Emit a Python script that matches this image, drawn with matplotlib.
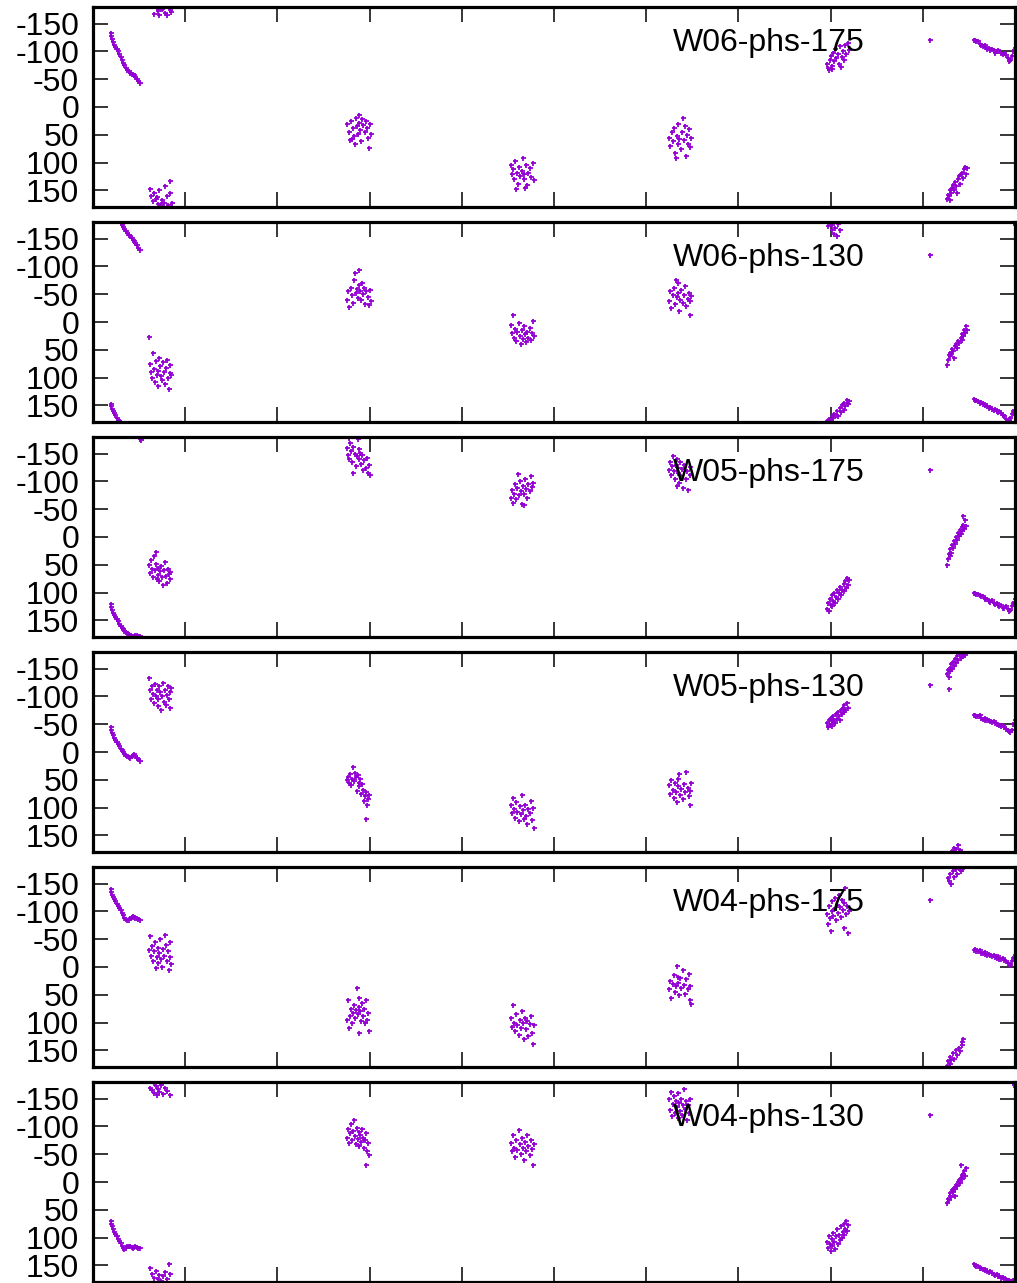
import numpy as np
import matplotlib.pyplot as plt

plt.rcParams['font.family'] = ['Liberation Sans', 'DejaVu Sans']
plt.rcParams['axes.unicode_minus'] = False

names = ["W06-phs-175", "W06-phs-130", "W05-phs-175",
         "W05-phs-130", "W04-phs-175", "W04-phs-130"]

# sample times of the two continuous tracks (start and end of the run)
start_x = [0.19, 0.20, 0.21, 0.22, 0.23, 0.24, 0.26, 0.27, 0.28, 0.30, 0.31, 0.33,
           0.34, 0.36, 0.37, 0.39, 0.40, 0.42, 0.43, 0.45, 0.46, 0.48, 0.49, 0.51]
end_x = [9.55, 9.57, 9.58, 9.60, 9.62, 9.63, 9.65, 9.67, 9.68, 9.70, 9.72, 9.73, 9.75, 9.77,
         9.78, 9.80, 9.82, 9.83, 9.85, 9.87, 9.88, 9.90, 9.92, 9.93, 9.95, 9.97, 9.98, 10.0]

# phase of the start track, one list per panel
w06_175_start = [-134, -128, -122, -117, -112, -108, -104, -100, -95, -90, -85, -80,
                 -75, -70, -66, -64, -62, -60, -59, -57, -54, -51, -47, -43]
w06_130_start = [148, 152, 156, 160, 164, 168, 172, 176, 179, -178, -175, -171,
                 -167, -163, -160, -157, -154, -151, -148, -145, -142, -138, -134, -129]
w05_175_start = [121, 126, 131, 136, 140, 144, 148, 152, 156, 160, 163, 166,
                 169, 171, 173, 175, 177, 178, 179, 178, 177, 176, 178, 179]
w05_130_start = [-45, -40, -35, -30, -26, -22, -18, -14, -10, -6, -3, 0,
                 3, 5, 7, 9, 10, 8, 5, 4, 7, 10, 13, 16]
w04_175_start = [-140, -135, -130, -126, -122, -118, -114, -110, -106, -102, -97, -93,
                 -89, -86, -84, -85, -88, -90, -91, -90, -89, -88, -86, -85]
w04_130_start = [70, 75, 80, 85, 90, 94, 98, 102, 106, 110, 115, 119,
                 121, 118, 116, 115, 116, 117, 118, 117, 116, 117, 118, 119]

# phase of the end track
w06_175_end = [-120, -121, -118, -119, -114, -112, -110, -112, -108, -104, -106, -103, -104, -102,
               -98, -100, -103, -101, -98, -96, -98, -94, -88, -82, -85, -92, -100, -106]
w06_130_end = [139, 141, 140, 143, 145, 144, 147, 149, 148, 152, 154, 153, 156, 158,
               157, 160, 162, 161, 164, 167, 170, 174, 178, 176, 172, 165, 160, 168]
w05_175_end = [100, 101, 103, 102, 105, 107, 106, 110, 112, 111, 115, 117, 114, 118,
               120, 119, 122, 124, 123, 127, 128, 125, 130, 134, 131, 124, 118, 112]
w05_130_end = [-66, -67, -65, -64, -66, -62, -60, -61, -58, -57, -58, -55, -54, -55,
               -52, -50, -51, -48, -47, -48, -45, -42, -40, -38, -36, -40, -50, -57]
w04_175_end = [-30, -32, -29, -28, -30, -26, -25, -27, -23, -22, -24, -21, -20, -22,
               -18, -17, -19, -15, -14, -16, -12, -10, -8, -6, -4, -10, -16, -21]
w04_130_end = [148, 150, 152, 151, 154, 155, 157, 156, 159, 160, 162, 161, 164, 165,
               167, 166, 169, 170, 172, 171, 174, 175, 177, 176, 178, 179, 177, 178]

# scattered scans (time, phase)
w06_175_pts = [
    (0.66, -168), (0.70, -172), (0.72, -165), (0.75, -176), (0.78, -170), (0.80, -166),
    (0.83, -174), (0.76, -178), (0.70, -177), (0.85, -171),
    (0.62, 148), (0.63, 160), (0.65, 170), (0.66, 155), (0.68, 165), (0.70, 175), (0.72, 150),
    (0.73, 178), (0.75, 168), (0.77, 172), (0.78, 143), (0.80, 160), (0.81, 176), (0.83, 133),
    (0.84, 155), (0.86, 172), (0.69, 162), (0.74, 174),
    (2.76, 30), (2.78, 45), (2.79, 60), (2.80, 25), (2.82, 38), (2.83, 52), (2.85, 20), (2.86, 35),
    (2.87, 48), (2.88, 15), (2.89, 28), (2.90, 42), (2.91, 62), (2.92, 22), (2.93, 33), (2.95, 45),
    (2.96, 26), (2.97, 38), (2.98, 55), (3.00, 30), (3.01, 48), (2.84, 66), (2.99, 73), (2.81, 58),
    (4.53, 105), (4.54, 120), (4.56, 112), (4.57, 130), (4.58, 98), (4.60, 118), (4.61, 138),
    (4.62, 108), (4.63, 125), (4.65, 115), (4.66, 92), (4.67, 130), (4.68, 120), (4.70, 105),
    (4.71, 140), (4.72, 118), (4.74, 110), (4.75, 126), (4.77, 100), (4.78, 132), (4.59, 148), (4.69, 145),
    (6.25, 55), (6.26, 70), (6.28, 45), (6.29, 62), (6.30, 38), (6.31, 82), (6.33, 52), (6.34, 67),
    (6.35, 30), (6.36, 58), (6.38, 75), (6.39, 45), (6.40, 20), (6.41, 60), (6.43, 88), (6.44, 50),
    (6.45, 66), (6.46, 40), (6.48, 72), (6.49, 56), (6.32, 91), (6.42, 35),
    (7.96, -78), (7.97, -70), (7.99, -85), (8.00, -92), (8.01, -74), (8.03, -98), (8.04, -82),
    (8.05, -105), (8.06, -88), (8.08, -95), (8.09, -78), (8.10, -110), (8.12, -90), (8.13, -100),
    (8.14, -84), (8.16, -112), (8.17, -95), (8.19, -116), (8.20, -102), (7.98, -66), (8.02, -68), (8.11, -72),
    (9.26, 165), (9.27, 158), (9.28, 160), (9.30, 150), (9.31, 155), (9.32, 145), (9.33, 140),
    (9.34, 150), (9.35, 135), (9.36, 142), (9.38, 130), (9.39, 125), (9.40, 138), (9.41, 120),
    (9.43, 118), (9.44, 128), (9.45, 112), (9.46, 108), (9.47, 120), (9.48, 110), (9.29, 168), (9.37, 155),
]
w06_130_pts = [
    (0.61, 27), (0.62, 75), (0.63, 90), (0.64, 100), (0.65, 55), (0.66, 85), (0.67, 108), (0.68, 70),
    (0.69, 95), (0.70, 88), (0.71, 115), (0.72, 65), (0.73, 80), (0.74, 98), (0.75, 105), (0.76, 72),
    (0.77, 90), (0.78, 112), (0.79, 82), (0.80, 68), (0.81, 100), (0.82, 121), (0.83, 92), (0.84, 78), (0.85, 96),
    (2.76, -40), (2.77, -55), (2.78, -27), (2.80, -62), (2.81, -48), (2.82, -35), (2.83, -75), (2.85, -52),
    (2.86, -60), (2.87, -44), (2.88, -93), (2.89, -66), (2.90, -56), (2.91, -40), (2.92, -70), (2.93, -50),
    (2.94, -62), (2.95, -33), (2.96, -55), (2.98, -45), (2.99, -30), (3.00, -58), (3.01, -38), (2.84, -88),
    (4.53, 5), (4.54, 20), (4.55, -13), (4.57, 28), (4.58, 12), (4.59, 35), (4.60, 18), (4.62, 2),
    (4.63, 25), (4.64, 40), (4.65, 15), (4.66, 30), (4.68, 8), (4.69, 22), (4.70, 36), (4.71, 18),
    (4.72, 28), (4.74, 10), (4.75, 32), (4.76, 20), (4.77, -2), (4.78, 26),
    (6.25, -38), (6.26, -55), (6.27, -25), (6.29, -48), (6.30, -62), (6.31, -33), (6.32, -75), (6.33, -45),
    (6.35, -52), (6.36, -20), (6.37, -40), (6.38, -58), (6.40, -35), (6.41, -48), (6.42, -65), (6.43, -28),
    (6.45, -42), (6.46, -53), (6.47, -13), (6.48, -38), (6.49, -47), (6.34, -70),
    (7.97, -172), (7.99, -178), (8.01, -165), (8.02, -175), (8.04, -158), (8.05, -170), (8.07, -155),
    (8.08, -176), (8.10, -166),
    (7.96, 178), (7.98, 175), (8.00, 176), (8.01, 170), (8.03, 172), (8.04, 165), (8.06, 168), (8.07, 160),
    (8.08, 170), (8.10, 155), (8.11, 162), (8.12, 150), (8.14, 158), (8.15, 145), (8.16, 152), (8.18, 140),
    (8.19, 148), (8.20, 143),
    (9.26, 77), (9.27, 68), (9.28, 60), (9.29, 62), (9.30, 55), (9.31, 58), (9.32, 48), (9.33, 52),
    (9.35, 44), (9.36, 40), (9.37, 46), (9.38, 35), (9.39, 38), (9.41, 28), (9.42, 32), (9.43, 22),
    (9.44, 26), (9.45, 15), (9.46, 20), (9.47, 8), (9.48, 14), (9.34, 65),
    (9.99, -178), (10.0, -175),
]
w05_175_pts = [
    (0.51, -177), (0.52, -174),
    (0.61, 50), (0.62, 65), (0.63, 42), (0.64, 58), (0.65, 72), (0.66, 35), (0.67, 60), (0.68, 48),
    (0.69, 75), (0.70, 55), (0.71, 68), (0.72, 80), (0.73, 62), (0.74, 52), (0.75, 72), (0.76, 86),
    (0.77, 60), (0.78, 45), (0.79, 70), (0.80, 82), (0.81, 58), (0.82, 66), (0.83, 76), (0.84, 63), (0.68, 27),
    (2.76, -160), (2.77, -148), (2.78, -140), (2.79, -170), (2.80, -155), (2.81, -135), (2.82, -162),
    (2.84, -150), (2.85, -128), (2.86, -145), (2.87, -177), (2.88, -158), (2.89, -140), (2.90, -152),
    (2.91, -132), (2.92, -148), (2.93, -120), (2.94, -138), (2.96, -125), (2.97, -142), (2.98, -115),
    (2.99, -130), (3.00, -111), (2.82, -115), (2.78, -178),
    (4.53, -70), (4.54, -85), (4.55, -62), (4.57, -78), (4.58, -95), (4.59, -68), (4.60, -88), (4.62, -75),
    (4.63, -100), (4.64, -82), (4.65, -60), (4.66, -92), (4.68, -78), (4.69, -105), (4.70, -86),
    (4.71, -70), (4.72, -95), (4.74, -82), (4.75, -110), (4.76, -90), (4.77, -98), (4.61, -114), (4.67, -57),
    (6.25, -120), (6.26, -135), (6.27, -112), (6.28, -128), (6.29, -145), (6.30, -118), (6.31, -105),
    (6.32, -130), (6.33, -140), (6.34, -115), (6.35, -125), (6.36, -98), (6.37, -135), (6.38, -110),
    (6.39, -122), (6.40, -88), (6.41, -130), (6.43, -105), (6.44, -118), (6.45, -84), (6.47, -112),
    (6.48, -126), (6.33, -92),
    (7.96, 130), (7.97, 118), (7.98, 134), (7.99, 112), (8.00, 122), (8.01, 105), (8.02, 125), (8.03, 115),
    (8.04, 100), (8.05, 118), (8.06, 108), (8.07, 95), (8.08, 112), (8.09, 100), (8.10, 90), (8.11, 104),
    (8.12, 96), (8.14, 85), (8.15, 98), (8.16, 80), (8.17, 92), (8.18, 73), (8.19, 86), (8.20, 78),
    (9.26, 50), (9.27, 40), (9.28, 30), (9.29, 35), (9.30, 22), (9.31, 28), (9.32, 15), (9.33, 20),
    (9.34, 8), (9.35, 12), (9.36, 0), (9.37, 5), (9.38, -8), (9.39, -2), (9.40, -12), (9.41, -5),
    (9.42, -18), (9.43, -10), (9.44, -22), (9.45, -15), (9.46, -30), (9.47, -20), (9.44, -38),
]
w05_130_pts = [
    (0.61, -134), (0.62, -112), (0.63, -95), (0.64, -118), (0.65, -105), (0.66, -88), (0.67, -122),
    (0.68, -100), (0.69, -112), (0.70, -82), (0.71, -95), (0.72, -118), (0.73, -108), (0.74, -75),
    (0.75, -100), (0.76, -125), (0.77, -90), (0.78, -112), (0.79, -85), (0.80, -102), (0.81, -118),
    (0.82, -95), (0.83, -80), (0.84, -108), (0.85, -115),
    (2.76, 50), (2.77, 45), (2.78, 55), (2.79, 40), (2.80, 60), (2.81, 48), (2.82, 27), (2.83, 52),
    (2.84, 38), (2.85, 45), (2.86, 70), (2.87, 42), (2.88, 55), (2.89, 62), (2.90, 48), (2.91, 75),
    (2.92, 58), (2.93, 68), (2.94, 88), (2.95, 80), (2.96, 72), (2.97, 95), (2.98, 85), (2.99, 78), (2.96, 121),
    (4.53, 95), (4.54, 110), (4.55, 82), (4.57, 102), (4.58, 118), (4.59, 90), (4.60, 108), (4.62, 125),
    (4.63, 98), (4.64, 112), (4.65, 77), (4.66, 105), (4.68, 120), (4.69, 95), (4.70, 115), (4.71, 130),
    (4.72, 102), (4.74, 110), (4.75, 88), (4.76, 122), (4.77, 100), (4.78, 136),
    (6.25, 60), (6.26, 75), (6.27, 50), (6.29, 68), (6.30, 82), (6.31, 55), (6.32, 72), (6.33, 90),
    (6.35, 62), (6.36, 40), (6.37, 78), (6.38, 66), (6.40, 85), (6.41, 58), (6.42, 72), (6.43, 36),
    (6.45, 65), (6.46, 80), (6.47, 96), (6.48, 70), (6.49, 55), (6.34, 48),
    (7.96, -52), (7.97, -45), (7.98, -58), (7.99, -48), (8.00, -62), (8.01, -55), (8.02, -50), (8.03, -65),
    (8.04, -58), (8.05, -52), (8.06, -68), (8.07, -60), (8.08, -72), (8.09, -64), (8.10, -58), (8.11, -75),
    (8.12, -68), (8.13, -80), (8.14, -72), (8.15, -84), (8.16, -76), (8.18, -88), (8.19, -80), (8.01, -47),
    (9.26, -140), (9.27, -148), (9.28, -135), (9.29, -152), (9.30, -145), (9.31, -158), (9.32, -150),
    (9.33, -162), (9.34, -155), (9.35, -168), (9.36, -160), (9.37, -172), (9.38, -165), (9.40, -176),
    (9.41, -170), (9.43, -178), (9.44, -172), (9.46, -175), (9.28, -114),
    (9.32, 178), (9.34, 172), (9.36, 175), (9.38, 168), (9.40, 176),
]
w04_175_pts = [
    (0.61, -30), (0.62, -55), (0.63, -20), (0.64, -38), (0.65, -10), (0.66, -28), (0.67, -45), (0.68, 2),
    (0.69, -18), (0.70, -35), (0.71, -8), (0.72, -25), (0.73, -50), (0.74, -15), (0.75, 0), (0.76, -32),
    (0.77, -20), (0.78, -57), (0.79, -40), (0.80, -10), (0.81, -28), (0.82, 5), (0.83, -45), (0.84, -18), (0.85, -5),
    (2.76, 95), (2.77, 60), (2.78, 110), (2.79, 88), (2.80, 75), (2.81, 100), (2.82, 82), (2.83, 68),
    (2.84, 92), (2.85, 78), (2.86, 37), (2.87, 85), (2.88, 72), (2.89, 55), (2.90, 80), (2.91, 98),
    (2.92, 65), (2.93, 88), (2.94, 75), (2.96, 60), (2.97, 95), (2.98, 82), (2.99, 116), (2.89, 118), (2.95, 100),
    (4.53, 92), (4.54, 108), (4.55, 68), (4.57, 100), (4.58, 115), (4.59, 85), (4.60, 105), (4.62, 122),
    (4.63, 95), (4.64, 110), (4.65, 80), (4.66, 100), (4.68, 130), (4.69, 92), (4.70, 112), (4.71, 98),
    (4.72, 125), (4.74, 102), (4.75, 88), (4.76, 118), (4.77, 139), (4.78, 105),
    (6.25, 40), (6.26, 25), (6.27, 55), (6.29, 30), (6.30, 15), (6.31, 45), (6.32, 35), (6.33, -2),
    (6.35, 28), (6.36, 50), (6.37, 20), (6.38, 38), (6.40, 5), (6.41, 32), (6.42, 48), (6.43, 22),
    (6.45, 40), (6.46, 12), (6.47, 60), (6.48, 35), (6.49, 66), (6.34, 18),
    (7.96, -95), (7.97, -78), (7.98, -110), (7.99, -88), (8.00, -65), (8.01, -100), (8.02, -118),
    (8.03, -92), (8.04, -105), (8.05, -125), (8.06, -85), (8.07, -112), (8.08, -98), (8.09, -130),
    (8.10, -108), (8.11, -90), (8.12, -120), (8.13, -102), (8.14, -70), (8.15, -115), (8.16, -143),
    (8.17, -95), (8.18, -110), (8.19, -62), (8.20, -100),
    (9.27, -160), (9.28, -155), (9.30, -168), (9.31, -150), (9.33, -172), (9.34, -162), (9.36, -176),
    (9.37, -168), (9.39, -178), (9.41, -172), (9.43, -177),
    (9.26, 178), (9.27, 170), (9.29, 175), (9.30, 162), (9.31, 168), (9.33, 155), (9.34, 165),
    (9.36, 150), (9.37, 158), (9.39, 145), (9.40, 152), (9.42, 140), (9.43, 135), (9.44, 130),
]
w04_130_pts = [
    (0.62, -170), (0.64, -165), (0.66, -160), (0.68, -172), (0.69, -156), (0.71, -168), (0.72, -162),
    (0.74, -175), (0.76, -158), (0.78, -170), (0.80, -164), (0.83, -156), (0.66, -178),
    (0.62, 155), (0.64, 165), (0.66, 172), (0.68, 160), (0.70, 175), (0.72, 168), (0.74, 178),
    (0.76, 170), (0.78, 162), (0.80, 174), (0.82, 148), (0.84, 165),
    (2.76, -80), (2.77, -95), (2.78, -70), (2.79, -88), (2.80, -105), (2.81, -75), (2.82, -92),
    (2.83, -111), (2.84, -82), (2.85, -68), (2.86, -98), (2.87, -78), (2.88, -90), (2.89, -65),
    (2.90, -85), (2.91, -72), (2.92, -95), (2.93, -80), (2.94, -62), (2.95, -75), (2.96, -88),
    (2.97, -55), (2.98, -70), (2.99, -48), (2.96, -30),
    (4.53, -70), (4.54, -55), (4.55, -85), (4.57, -62), (4.58, -45), (4.59, -75), (4.60, -58),
    (4.62, -93), (4.63, -68), (4.64, -50), (4.65, -80), (4.66, -62), (4.68, -40), (4.69, -72),
    (4.70, -55), (4.71, -85), (4.72, -65), (4.74, -48), (4.75, -75), (4.76, -60), (4.77, -30), (4.78, -68),
    (6.25, -150), (6.26, -130), (6.27, -162), (6.28, -118), (6.29, -140), (6.30, -155), (6.31, -125),
    (6.32, -145), (6.33, -135), (6.34, -160), (6.35, -115), (6.36, -142), (6.37, -128), (6.38, -150),
    (6.39, -120), (6.40, -138), (6.41, -168), (6.42, -132), (6.43, -145), (6.44, -112), (6.45, -138),
    (6.46, -125), (6.47, -150),
    (7.96, 108), (7.97, 118), (7.98, 98), (7.99, 112), (8.00, 125), (8.01, 102), (8.02, 115), (8.03, 92),
    (8.04, 108), (8.05, 120), (8.06, 98), (8.07, 85), (8.08, 112), (8.09, 95), (8.10, 105), (8.11, 80),
    (8.12, 100), (8.13, 90), (8.14, 76), (8.15, 95), (8.16, 85), (8.17, 70), (8.18, 88), (8.19, 78),
    (9.26, 37), (9.27, 30), (9.28, 33), (9.29, 25), (9.30, 20), (9.31, 27), (9.32, 15), (9.33, 18),
    (9.34, 10), (9.35, 12), (9.36, 5), (9.37, 8), (9.38, 0), (9.39, -3), (9.40, 2), (9.41, -8),
    (9.42, -12), (9.43, -5), (9.44, -15), (9.45, -20), (9.46, -10), (9.47, -25), (9.41, -30), (9.35, 25),
    (9.98, -178), (9.99, -175), (10.0, -172),
]

starts = [w06_175_start, w06_130_start, w05_175_start, w05_130_start, w04_175_start, w04_130_start]
ends = [w06_175_end, w06_130_end, w05_175_end, w05_130_end, w04_175_end, w04_130_end]
scans = [w06_175_pts, w06_130_pts, w05_175_pts, w05_130_pts, w04_175_pts, w04_130_pts]

W, H = 1017, 1283
fig = plt.figure(figsize=(W / 100, H / 100), dpi=100)

for i, name in enumerate(names):
    top = 7 + 215 * i
    ax = fig.add_axes([93 / W, 1 - (top + 200) / H, 922 / W, 200 / H])
    pts = np.array(scans[i], dtype=float)
    xs = np.concatenate([start_x, pts[:, 0], end_x])
    ys = np.concatenate([starts[i], pts[:, 1], ends[i]])
    ax.plot(xs, ys, '+', color='#9400D3', ms=3.6, mew=1.3, label=name)

    ax.set_xlim(0, 10)
    ax.set_ylim(180, -180)
    ax.set_xticks(range(1, 10))
    ax.set_yticks(range(-150, 151, 50))
    ax.set_xticklabels([])
    ax.tick_params(direction='in', top=True, right=True, length=11, width=1.1,
                   labelsize=23, pad=10)
    ax.tick_params(axis='x', labelbottom=False)
    for sp in ax.spines.values():
        sp.set_linewidth(2.3)

    ax.legend(loc='upper right', bbox_to_anchor=(0.925, 0.895), markerfirst=False,
              frameon=False, handlelength=1.0, handletextpad=1.55, borderpad=0,
              borderaxespad=0, fontsize=23)

fig.savefig('out.png', dpi=100)
